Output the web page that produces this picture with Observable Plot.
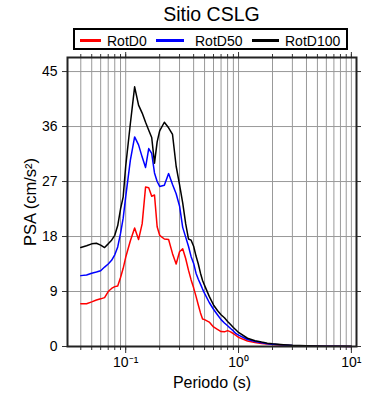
<!DOCTYPE html>
<html>
<head>
<meta charset="utf-8">
<script src="https://cdn.jsdelivr.net/npm/d3@7"></script>
<script src="https://cdn.jsdelivr.net/npm/@observablehq/plot@0.6"></script>
<style>
  html, body { margin: 0; padding: 0; background: #fff; }
  body { width: 390px; height: 400px; overflow: hidden; font-family: "Liberation Sans", Arial, sans-serif; }
  #title { height: 25px; padding-top: 1px; padding-left: 67px; width: 289px; text-align: center; font-size: 19.5px; line-height: 26px; color: #000; white-space: nowrap; }
  #legend { position: relative; height: 26px; }
  #legend .box { position: absolute; left: 73px; top: 2px; width: 271px; height: 18px; border: 2px solid #000; }
  #legend .sw { position: absolute; top: 9px; height: 3px; }
  #legend .lb { position: absolute; top: 3px; font-size: 14px; line-height: 16px; color: #000; white-space: nowrap; }
  #chart svg { display: block; }
</style>
</head>
<body>
<div id="title">Sitio CSLG</div>
<div id="legend"></div>
<div id="chart"></div>
<script>
// ---- data ----
const periods = [0.04,0.045,0.05,0.055,0.06,0.065,0.07,0.075,0.08,0.085,0.09,0.095,
  0.1,0.11,0.12,0.13,0.14,0.15,0.16,0.17,0.18,0.19,0.2,0.22,0.24,0.26,0.28,0.3,
  0.32,0.34,0.36,0.38,0.4,0.42,0.44,0.46,0.48,0.5,0.55,0.6,0.65,0.7,0.75,0.8,0.85,
  0.9,0.95,1.0,1.2,1.4,1.6,1.8,2.0,2.5,3.0,4.0,5.0,6.0,7.5,10.0];

const rotD0 = [7.0,7.0,7.3,7.6,7.8,8.0,9.0,9.5,9.8,9.9,11.3,12.8,
  14.6,17.3,19.4,17.5,20.1,26.1,26.0,24.6,24.8,19.6,18.2,17.6,17.5,15.2,13.5,15.5,
  16.0,14.4,12.5,10.9,9.6,8.2,6.8,5.5,4.5,4.4,4.0,3.2,2.8,2.45,2.4,2.6,2.4,
  2.1,1.8,1.5,0.9,0.65,0.5,0.4,0.33,0.2,0.13,0.07,0.05,0.04,0.03,0.02];

const rotD50 = [11.6,11.7,12.0,12.2,12.4,13.0,13.5,14.1,15.0,16.3,18.5,21.0,
  24.5,30.5,34.3,33.0,31.0,29.3,32.4,31.6,28.4,27.0,26.2,26.4,28.3,26.5,25.0,23.0,
  19.5,17.9,16.4,14.7,13.6,12.0,11.0,10.2,9.4,8.7,7.2,6.1,5.2,4.4,3.85,3.4,2.95,
  2.55,2.1,1.85,1.15,0.82,0.6,0.46,0.38,0.24,0.16,0.09,0.06,0.045,0.035,0.02];

const rotD100 = [16.2,16.5,16.8,16.9,16.6,16.2,16.8,17.4,18.2,19.8,22.5,24.5,
  29.5,36.5,42.5,39.5,38.2,36.7,35.4,34.2,30.0,33.5,35.3,36.7,35.8,34.7,29.5,26.5,
  23.5,20.1,17.6,17.4,16.4,14.8,13.5,12.0,10.8,10.0,8.2,6.8,5.9,5.2,4.7,4.1,3.6,
  3.1,2.7,2.3,1.35,0.95,0.72,0.55,0.45,0.3,0.2,0.11,0.07,0.05,0.04,0.03];

const seriesNames = ["RotD0", "RotD50", "RotD100"];
const seriesColors = ["#ff0000", "#0000ff", "#000000"];
const yTicks = [0, 9, 18, 27, 36, 45];
const xDecades = [0.1, 1, 10];
const xDecadeLabels = ["10\u207B\u00B9", "10\u2070", "10\u00B9"];
const xMinor = [0.04,0.05,0.06,0.07,0.08,0.09,0.1,0.2,0.3,0.4,0.5,0.6,0.7,0.8,0.9,
  1,2,3,4,5,6,7,8,9,10];

// ---- legend (HTML, above the svg) ----
const legendSw = [{left: 5, width: 21}, {left: 81, width: 28}, {left: 177, width: 27}];
const legendLb = [32, 120, 210];
const box = document.createElement("div");
box.className = "box";
seriesNames.forEach((name, i) => {
  const sw = document.createElement("div");
  sw.className = "sw";
  sw.style.left = legendSw[i].left + "px";
  sw.style.width = legendSw[i].width + "px";
  sw.style.background = seriesColors[i];
  box.appendChild(sw);
  const lb = document.createElement("div");
  lb.className = "lb";
  lb.style.left = legendLb[i] + "px";
  lb.textContent = name;
  box.appendChild(lb);
});
document.getElementById("legend").appendChild(box);

// ---- long table ----
const allSeries = [rotD0, rotD50, rotD100];
const rows = [];
allSeries.forEach((vals, s) => {
  periods.forEach((p, i) => rows.push({period: p, psa: vals[i], series: seriesNames[s]}));
});

const chart = Plot.plot({
  width: 390,
  height: 348,
  marginLeft: 67,
  marginRight: 34,
  marginTop: 5,
  marginBottom: 54,
  style: {fontFamily: "'Liberation Sans', Arial, sans-serif", fontSize: "14px", color: "#000", background: "#fff"},
  x: {type: "log", domain: [0.0305, 11.1]},
  y: {domain: [0, 47.3]},
  color: {domain: seriesNames, range: seriesColors},
  marks: [
    Plot.ruleX(xMinor, {stroke: "#999", strokeWidth: 1}),
    Plot.ruleY(yTicks.filter(d => d > 0), {stroke: "#999", strokeWidth: 1}),
    Plot.line(rows, {x: "period", y: "psa", z: "series", stroke: "series", strokeWidth: 1.5}),
    // bottom minor + decade ticks
    Plot.axisX({anchor: "bottom", ticks: xMinor, tickSize: 4, tickFormat: () => "", label: null, stroke: "#333"}),
    Plot.axisX({anchor: "bottom", ticks: xDecades, tickSize: 7, tickPadding: 4,
      tickFormat: d => xDecadeLabels[xDecades.indexOf(d)], label: null, fontSize: 14, stroke: "#333"}),
    // top minor + decade ticks
    Plot.axisX({anchor: "top", ticks: xMinor, tickSize: 4, tickFormat: () => "", label: null, stroke: "#333"}),
    Plot.axisX({anchor: "top", ticks: xDecades, tickSize: 7, tickFormat: () => "", label: null, stroke: "#333"}),
    // y ticks
    Plot.axisY({anchor: "left", ticks: yTicks, tickSize: 5, tickPadding: 5, label: null, fontSize: 14, stroke: "#333"}),
    Plot.axisY({anchor: "right", ticks: yTicks, tickSize: 4, tickFormat: () => "", label: null, stroke: "#333"}),
    Plot.frame({stroke: "#222", strokeWidth: 2}),
    Plot.text(["Periodo (s)"], {frameAnchor: "bottom", dy: 36, lineAnchor: "middle", fontSize: 16, fill: "#000"}),
    Plot.text(["PSA (cm/s\u00B2)"], {frameAnchor: "left", dx: -37, rotate: -90, textAnchor: "middle", lineAnchor: "middle", fontSize: 16.5, fill: "#000"})
  ]
});
document.getElementById("chart").appendChild(chart);
</script>
</body>
</html>
